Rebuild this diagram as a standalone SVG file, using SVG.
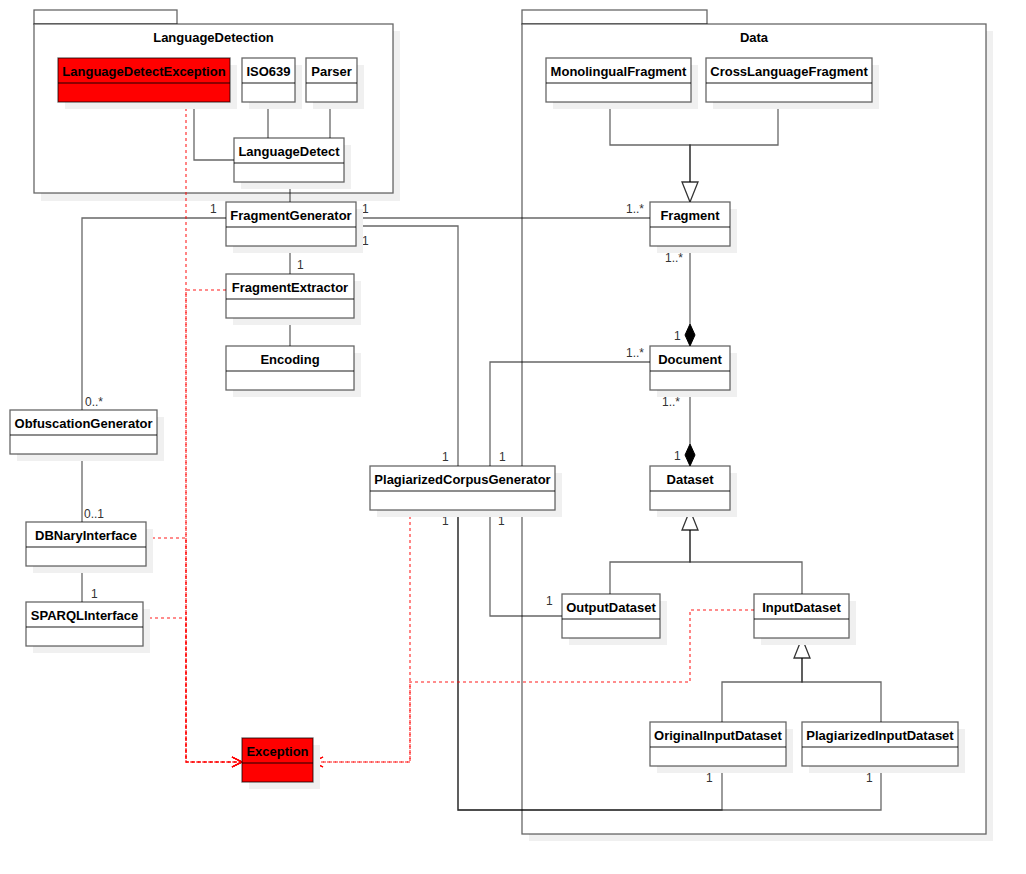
<svg xmlns="http://www.w3.org/2000/svg" width="1026" height="874" viewBox="0 0 1026 874">
<style>
  .shadow { fill: #f0f0f0; stroke: none; }
  .box { fill: #ffffff; stroke: #000; stroke-opacity: 0.6; stroke-width: 1.3; }
  .red { fill: #ff0000; stroke: #000; stroke-opacity: 0.6; stroke-width: 1.3; }
  .div { stroke: #000; stroke-opacity: 0.6; stroke-width: 1.3; fill: none; }
  .name { font-family: "Liberation Sans", Arial, sans-serif; font-size: 13px; font-weight: bold; fill: #000; text-anchor: middle; }
  .mult { font-family: "Liberation Sans", Arial, sans-serif; font-size: 12px; fill: #333; }
  .assoc { fill: none; stroke: #000; stroke-opacity: 0.6; stroke-width: 1.3; }
  .dep { fill: none; stroke: #ff0000; stroke-opacity: 0.6; stroke-width: 1.6; stroke-dasharray: 3 3; }
  .tri { fill: #ffffff; stroke: #000; stroke-opacity: 0.8; stroke-width: 1.3; }
  .dia { fill: #000; stroke: #000; stroke-width: 1; }
</style>
<defs>
  <marker id="open" markerUnits="userSpaceOnUse" markerWidth="12" markerHeight="12" refX="10" refY="5" orient="auto" overflow="visible">
    <path d="M0,0 L10,5 L0,10" fill="none" stroke="#ff0000" stroke-width="1.3"/>
  </marker>
</defs>

<!-- packages -->
<g id="pkg-LanguageDetection">
  <rect class="shadow" x="41" y="31" width="359" height="170"/>
  <rect class="box" x="34" y="10" width="143" height="14"/>
  <rect class="box" x="34" y="24" width="359" height="169"/>
  <text class="name" x="213.5" y="42">LanguageDetection</text>
</g>
<g id="pkg-Data">
  <rect class="shadow" x="529" y="31" width="464" height="810"/>
  <rect class="box" x="522" y="10" width="185" height="14"/>
  <rect class="box" x="522" y="24" width="464" height="810"/>
  <text class="name" x="754" y="42">Data</text>
</g>

<!-- connectors -->
<g id="connectors">
  <path class="assoc" d="M194,102 V160 H234"/>
  <path class="assoc" d="M268,102 V138"/>
  <path class="assoc" d="M330,102 V138"/>
  <path class="assoc" d="M290,182 V202"/>
  <path class="assoc" d="M226,218 H82 V410"/>
  <path class="assoc" d="M356,218 H650"/>
  <path class="assoc" d="M356,226 H458 V466"/>
  <path class="assoc" d="M290,246 V274"/>
  <path class="assoc" d="M290,318 V346"/>
  <path class="assoc" d="M82,454 V522"/>
  <path class="assoc" d="M82,566 V602"/>
  <path class="assoc" d="M650,362 H490 V466"/>
  <path class="assoc" d="M490,510 V616 H562"/>
  <path class="assoc" d="M458,510 V810 H722 V766"/>
  <path class="assoc" d="M458,510 V810 H881 V766"/>
  <!-- composition -->
  <path class="assoc" d="M690,246 V324"/>
  <polygon class="dia" points="690,346 695,335 690,324 685,335"/>
  <path class="assoc" d="M690,390 V444"/>
  <polygon class="dia" points="690,466 695,455 690,444 685,455"/>
  <!-- generalization -->
  <path class="assoc" d="M610,102 V145 H690 V182"/>
  <path class="assoc" d="M778,102 V145 H690 V182"/>
  <polygon class="tri" points="690,202 682,182 698,182"/>
  <path class="assoc" d="M610,594 V562 H690 V530"/>
  <path class="assoc" d="M802,594 V562 H690 V530"/>
  <polygon class="tri" points="690,510 682,530 698,530"/>
  <path class="assoc" d="M722,722 V682 H802 V658"/>
  <path class="assoc" d="M881,722 V682 H802 V658"/>
  <polygon class="tri" points="802,638 794,658 810,658"/>
  <!-- dependencies -->
  <path class="dep" d="M186,102 V762 H242" marker-end="url(#open)"/>
  <path class="dep" d="M226,290 H186 V762 H242" marker-end="url(#open)"/>
  <path class="dep" d="M146,538 H186 V762 H242" marker-end="url(#open)"/>
  <path class="dep" d="M143,618 H186 V762 H242" marker-end="url(#open)"/>
  <path class="dep" d="M410,510 V762 H313" marker-end="url(#open)"/>
  <path class="dep" d="M754,610 H690 V682 H410 V762 H313" marker-end="url(#open)"/>
  <!-- multiplicities -->
  <text class="mult" x="210" y="213">1</text>
  <text class="mult" x="85" y="406">0..*</text>
  <text class="mult" x="362" y="213">1</text>
  <text class="mult" x="362" y="245">1</text>
  <text class="mult" x="297" y="269">1</text>
  <text class="mult" x="626" y="213">1..*</text>
  <text class="mult" x="665" y="262">1..*</text>
  <text class="mult" x="674" y="340">1</text>
  <text class="mult" x="626" y="357">1..*</text>
  <text class="mult" x="662" y="406">1..*</text>
  <text class="mult" x="674" y="460">1</text>
  <text class="mult" x="442" y="461">1</text>
  <text class="mult" x="499" y="461">1</text>
  <text class="mult" x="442" y="525">1</text>
  <text class="mult" x="498" y="525">1</text>
  <text class="mult" x="84" y="518">0..1</text>
  <text class="mult" x="91" y="598">1</text>
  <text class="mult" x="546" y="605">1</text>
  <text class="mult" x="706" y="782">1</text>
  <text class="mult" x="866" y="782">1</text>
</g>

<!-- classes -->
<g id="LanguageDetectException">
  <rect class="shadow" x="65" y="65" width="172" height="44"/>
  <rect class="red" x="58" y="58" width="172" height="44"/>
  <line class="div" x1="58" y1="83" x2="230" y2="83"/>
  <text class="name" x="144" y="75.5">LanguageDetectException</text>
</g>
<g id="ISO639">
  <rect class="shadow" x="249" y="65" width="53" height="44"/>
  <rect class="box" x="242" y="58" width="53" height="44"/>
  <line class="div" x1="242" y1="83" x2="295" y2="83"/>
  <text class="name" x="268.5" y="75.5">ISO639</text>
</g>
<g id="Parser">
  <rect class="shadow" x="313" y="65" width="51" height="44"/>
  <rect class="box" x="306" y="58" width="51" height="44"/>
  <line class="div" x1="306" y1="83" x2="357" y2="83"/>
  <text class="name" x="331.5" y="75.5">Parser</text>
</g>
<g id="LanguageDetect">
  <rect class="shadow" x="241" y="145" width="110" height="44"/>
  <rect class="box" x="234" y="138" width="110" height="44"/>
  <line class="div" x1="234" y1="163" x2="344" y2="163"/>
  <text class="name" x="289" y="155.5">LanguageDetect</text>
</g>
<g id="FragmentGenerator">
  <rect class="shadow" x="233" y="209" width="130" height="44"/>
  <rect class="box" x="226" y="202" width="130" height="44"/>
  <line class="div" x1="226" y1="227" x2="356" y2="227"/>
  <text class="name" x="291" y="219.5">FragmentGenerator</text>
</g>
<g id="FragmentExtractor">
  <rect class="shadow" x="233" y="281" width="128" height="44"/>
  <rect class="box" x="226" y="274" width="128" height="44"/>
  <line class="div" x1="226" y1="299" x2="354" y2="299"/>
  <text class="name" x="290" y="291.5">FragmentExtractor</text>
</g>
<g id="Encoding">
  <rect class="shadow" x="233" y="353" width="128" height="44"/>
  <rect class="box" x="226" y="346" width="128" height="44"/>
  <line class="div" x1="226" y1="371" x2="354" y2="371"/>
  <text class="name" x="290" y="363.5">Encoding</text>
</g>
<g id="ObfuscationGenerator">
  <rect class="shadow" x="17" y="417" width="147" height="44"/>
  <rect class="box" x="10" y="410" width="147" height="44"/>
  <line class="div" x1="10" y1="435" x2="157" y2="435"/>
  <text class="name" x="83.5" y="427.5">ObfuscationGenerator</text>
</g>
<g id="DBNaryInterface">
  <rect class="shadow" x="33" y="529" width="120" height="44"/>
  <rect class="box" x="26" y="522" width="120" height="44"/>
  <line class="div" x1="26" y1="547" x2="146" y2="547"/>
  <text class="name" x="86" y="539.5">DBNaryInterface</text>
</g>
<g id="SPARQLInterface">
  <rect class="shadow" x="33" y="609" width="117" height="44"/>
  <rect class="box" x="26" y="602" width="117" height="44"/>
  <line class="div" x1="26" y1="627" x2="143" y2="627"/>
  <text class="name" x="84.5" y="619.5">SPARQLInterface</text>
</g>
<g id="Exception">
  <rect class="shadow" x="249" y="745" width="71" height="44"/>
  <rect class="red" x="242" y="738" width="71" height="44"/>
  <line class="div" x1="242" y1="763" x2="313" y2="763"/>
  <text class="name" x="277.5" y="755.5">Exception</text>
</g>
<g id="PlagiarizedCorpusGenerator">
  <rect class="shadow" x="377" y="473" width="185" height="44"/>
  <rect class="box" x="370" y="466" width="185" height="44"/>
  <line class="div" x1="370" y1="491" x2="555" y2="491"/>
  <text class="name" x="462.5" y="483.5">PlagiarizedCorpusGenerator</text>
</g>
<g id="MonolingualFragment">
  <rect class="shadow" x="553" y="65" width="145" height="44"/>
  <rect class="box" x="546" y="58" width="145" height="44"/>
  <line class="div" x1="546" y1="83" x2="691" y2="83"/>
  <text class="name" x="618.5" y="75.5">MonolingualFragment</text>
</g>
<g id="CrossLanguageFragment">
  <rect class="shadow" x="713" y="65" width="166" height="44"/>
  <rect class="box" x="706" y="58" width="166" height="44"/>
  <line class="div" x1="706" y1="83" x2="872" y2="83"/>
  <text class="name" x="789" y="75.5">CrossLanguageFragment</text>
</g>
<g id="Fragment">
  <rect class="shadow" x="657" y="209" width="80" height="44"/>
  <rect class="box" x="650" y="202" width="80" height="44"/>
  <line class="div" x1="650" y1="227" x2="730" y2="227"/>
  <text class="name" x="690" y="219.5">Fragment</text>
</g>
<g id="Document">
  <rect class="shadow" x="657" y="353" width="80" height="44"/>
  <rect class="box" x="650" y="346" width="80" height="44"/>
  <line class="div" x1="650" y1="371" x2="730" y2="371"/>
  <text class="name" x="690" y="363.5">Document</text>
</g>
<g id="Dataset">
  <rect class="shadow" x="657" y="473" width="80" height="44"/>
  <rect class="box" x="650" y="466" width="80" height="44"/>
  <line class="div" x1="650" y1="491" x2="730" y2="491"/>
  <text class="name" x="690" y="483.5">Dataset</text>
</g>
<g id="OutputDataset">
  <rect class="shadow" x="569" y="601" width="98" height="44"/>
  <rect class="box" x="562" y="594" width="98" height="44"/>
  <line class="div" x1="562" y1="619" x2="660" y2="619"/>
  <text class="name" x="611" y="611.5">OutputDataset</text>
</g>
<g id="InputDataset">
  <rect class="shadow" x="761" y="601" width="95" height="44"/>
  <rect class="box" x="754" y="594" width="95" height="44"/>
  <line class="div" x1="754" y1="619" x2="849" y2="619"/>
  <text class="name" x="801.5" y="611.5">InputDataset</text>
</g>
<g id="OriginalInputDataset">
  <rect class="shadow" x="657" y="729" width="136" height="44"/>
  <rect class="box" x="650" y="722" width="136" height="44"/>
  <line class="div" x1="650" y1="747" x2="786" y2="747"/>
  <text class="name" x="718" y="739.5">OriginalInputDataset</text>
</g>
<g id="PlagiarizedInputDataset">
  <rect class="shadow" x="809" y="729" width="156" height="44"/>
  <rect class="box" x="802" y="722" width="156" height="44"/>
  <line class="div" x1="802" y1="747" x2="958" y2="747"/>
  <text class="name" x="880" y="739.5">PlagiarizedInputDataset</text>
</g>
</svg>
